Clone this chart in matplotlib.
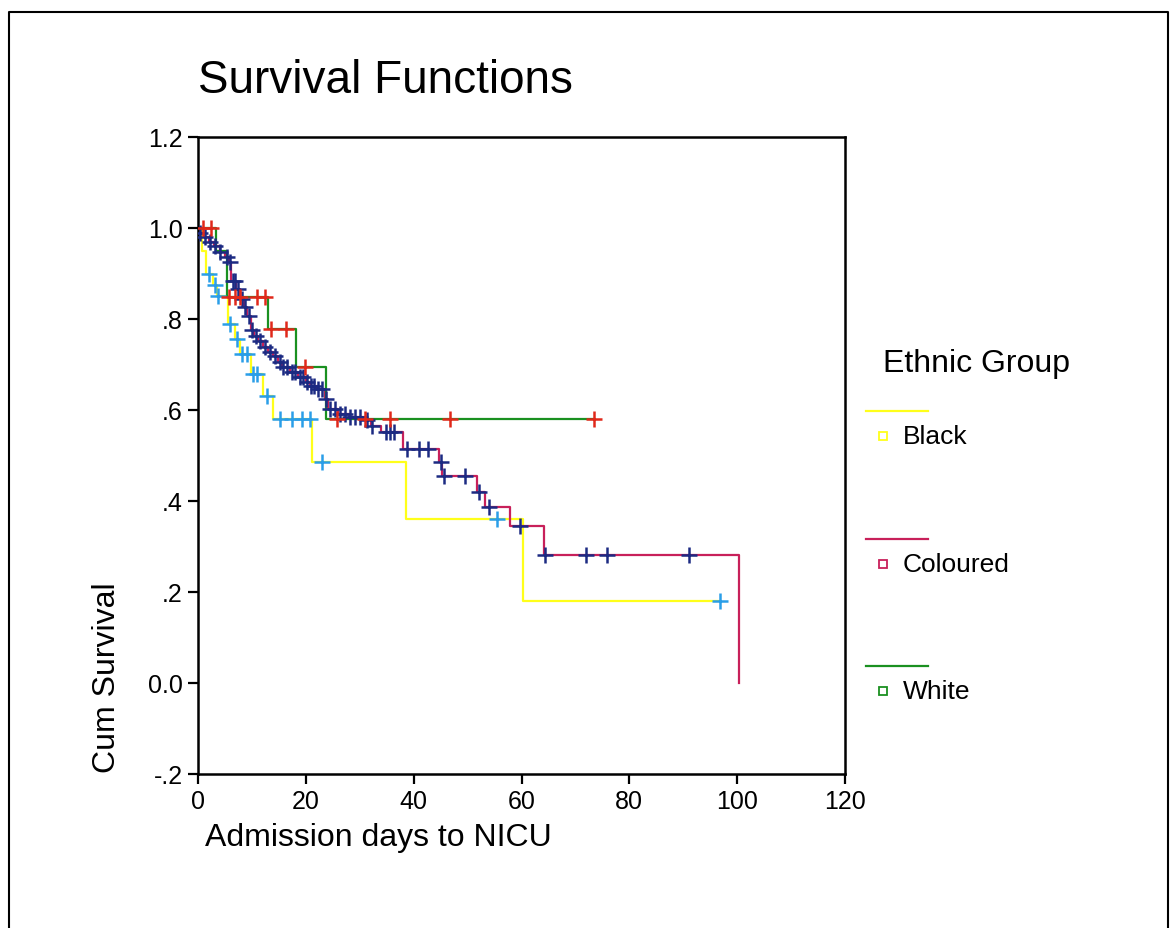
import numpy as np
import matplotlib
matplotlib.use("Agg")
import matplotlib.pyplot as plt
from matplotlib.lines import Line2D

plt.rcParams["font.family"] = ["Liberation Sans", "DejaVu Sans"]

# Kaplan-Meier curves: drop times and the level after each drop
groups = ["Black", "Coloured", "White"]

black_times = [0, 0.8, 1.5, 2.8, 3.5, 5.5, 6.8, 7.8, 9.8, 12.0, 13.9, 21.1, 38.6, 60.2, 96.8]
black_surv = [1.0, 0.95, 0.90, 0.875, 0.85, 0.79, 0.757, 0.723, 0.68, 0.63, 0.58, 0.485, 0.36, 0.18, 0.18]
black_cens = [2.0, 3.2, 3.8, 5.9, 7.2, 8.2, 9.1, 10.2, 10.9, 12.8, 15.2, 17.4, 19.3, 20.8, 23.0, 55.5, 96.8]

col_times = [0, 0.3, 1.1, 2.0, 3.0, 4.0, 5.0, 5.7, 6.2, 7.1, 7.8, 8.5, 9.1, 9.8, 10.4, 11.2, 12.1,
             13.0, 14.0, 14.8, 15.5, 17.0, 18.6, 20.0, 20.7, 22.0, 23.6, 24.2, 26.0, 28.0, 31.0,
             32.0, 34.0, 38.0, 44.7, 45.3, 51.8, 53.3, 57.9, 64.2, 100.3]
col_surv = [1.0, 0.99, 0.98, 0.97, 0.96, 0.947, 0.936, 0.925, 0.884, 0.866, 0.844, 0.826, 0.807,
            0.775, 0.763, 0.752, 0.738, 0.727, 0.719, 0.705, 0.695, 0.683, 0.672, 0.661, 0.653,
            0.646, 0.625, 0.602, 0.591, 0.585, 0.578, 0.565, 0.552, 0.514, 0.486, 0.455, 0.42,
            0.387, 0.345, 0.281, 0.0]
col_cens = [0.4, 1.3, 2.2, 3.2, 4.1, 5.3, 6.0, 6.4, 6.9, 7.4, 8.2, 8.8, 9.4, 10.0, 10.7, 11.5,
            12.4, 13.4, 14.3, 15.2, 15.8, 16.5, 17.4, 18.0, 18.9, 19.4, 20.2, 20.9, 21.6, 22.3,
            23.0, 23.8, 24.5, 25.4, 26.3, 27.3, 28.2, 29.1, 30.0, 31.3, 32.3, 34.8, 35.6, 36.3,
            38.8, 41.0, 42.7, 45.0, 45.6, 49.5, 52.1, 54.0, 59.7, 64.4, 72.0, 75.9, 91.0]

white_times = [0, 3.3, 5.4, 13.0, 18.2, 23.8, 73.5]
white_surv = [1.0, 0.95, 0.848, 0.778, 0.695, 0.58, 0.58]
white_cens = [1.0, 2.5, 5.7, 6.9, 7.8, 11.0, 12.4, 13.5, 16.4, 19.9, 25.8, 31.0, 35.6, 46.8, 73.5]

line_colors = ["#ffff1a", "#c8205a", "#1a9020"]
cens_colors = ["#2a9ee8", "#1c2a82", "#e0281a"]

x_ticks = [0, 20, 40, 60, 80, 100, 120]
y_ticks = [-0.2, 0.0, 0.2, 0.4, 0.6, 0.8, 1.0, 1.2]
y_tick_labels = ["-.2", "0.0", ".2", ".4", ".6", ".8", "1.0", "1.2"]

W, H = 1176, 929
fig = plt.figure(figsize=(W / 100, H / 100), dpi=100)
ax = fig.add_axes([198 / W, 1 - 775 / H, 647 / W, 637 / H])

curves = [
    (black_times, black_surv, black_cens),
    (col_times, col_surv, col_cens),
    (white_times, white_surv, white_cens),
]
for (t, s, c), lc, cc in zip(curves, line_colors, cens_colors):
    t = np.asarray(t, float)
    s = np.asarray(s, float)
    ax.step(t, s, where="post", color=lc, lw=1.6, zorder=2)
    idx = np.searchsorted(t, np.asarray(c), side="right") - 1
    ax.plot(c, s[idx], ls="none", marker="+", ms=11, mew=1.8, color=cc, zorder=3)

ax.set_xlim(0, 120)
ax.set_ylim(-0.2, 1.2)
ax.set_xticks(x_ticks)
ax.set_yticks(y_ticks)
ax.set_yticklabels(y_tick_labels)
ax.tick_params(labelsize=18, width=1.6, length=7, pad=4, color="black")
for sp in ax.spines.values():
    sp.set_linewidth(1.8)

fig.text(198 / W, 1 - 81 / H, "Survival Functions", fontsize=33, ha="left", va="center")
fig.text(107 / W, 1 - 773 / H, "Cum Survival", fontsize=23, rotation=90, ha="center", va="bottom")
fig.text(205 / W, 1 - 838 / H, "Admission days to NICU", fontsize=23, ha="left", va="center")

# legend drawn by hand, SPSS style
fig.text(883 / W, 1 - 364 / H, "Ethnic Group", fontsize=23, ha="left", va="center")
for i, (name, lc) in enumerate(zip(groups, line_colors)):
    y0 = 412 + i * 127.5
    fig.add_artist(Line2D([866 / W, 928 / W], [1 - y0 / H, 1 - y0 / H], color=lc, lw=1.6,
                          transform=fig.transFigure))
    fig.add_artist(Line2D([883 / W], [1 - (y0 + 25) / H], marker="s", ms=6, mfc="white",
                          mec=lc, mew=1.3, ls="none", transform=fig.transFigure))
    fig.text(903 / W, 1 - (y0 + 25) / H, name, fontsize=19, ha="left", va="center")

# outer frame
fig.add_artist(Line2D([9 / W, 9 / W, 1168 / W, 1168 / W], [0, 1 - 13 / H, 1 - 13 / H, 0],
                      color="black", lw=1.5, transform=fig.transFigure))

fig.savefig("out.png", dpi=100)
